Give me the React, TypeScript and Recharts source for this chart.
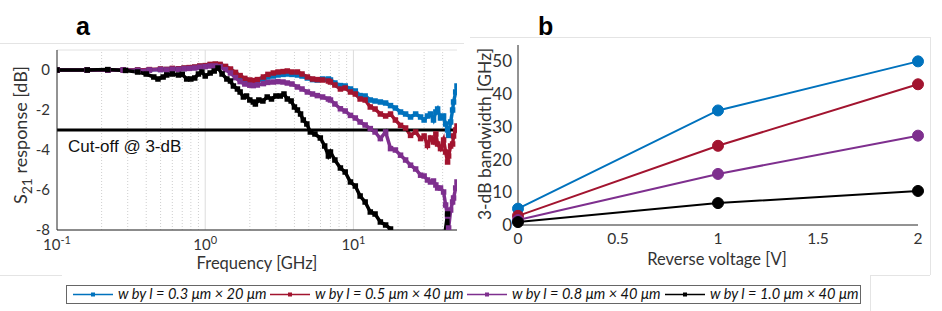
import React from 'react';
import { LineChart, Line, XAxis, YAxis, CartesianGrid, ReferenceLine } from 'recharts';

// ---------- Panel a: S21 response vs frequency ----------
const FREQ_GHZ = [
  0.1, 0.16, 0.22, 0.28, 0.35, 0.42, 0.5, 0.55, 0.6, 0.66,
  0.72, 0.78, 0.85, 0.92, 1.0, 1.08, 1.17, 1.26, 1.37, 1.48,
  1.6, 1.72, 1.85, 2.0, 2.11, 2.25, 2.47, 2.65, 2.88, 3.1,
  3.35, 3.58, 3.85, 4.19, 4.5, 4.89, 5.3, 5.71, 6.2, 6.78,
  7.0, 7.5, 8.17, 8.8, 9.55, 10.3, 11.1, 12.0, 13.0, 14.0,
  15.2, 16.5, 17.8, 19.2, 20.8, 22.5, 24.3, 26.3, 28.4, 30.0,
  31.6, 33.1, 34.7, 36.0, 37.0, 38.7, 40.6, 41.9, 43.2, 43.9,
  45.3, 46.7, 47.4, 49.0, 50,
];

const S21_W03 = [
  0, 0, 0, 0, 0, 0.01, 0.03, 0.02, 0.06, 0.05,
  0.08, 0.1, 0.13, 0.18, 0.2, 0.25, 0.27, 0.25, 0.15, 0.0,
  -0.18, -0.35, -0.48, -0.58, -0.6, -0.55, -0.45, -0.35, -0.3, -0.25,
  -0.22, -0.2, -0.22, -0.25, -0.3, -0.4, -0.48, -0.5, -0.45, -0.45,
  -0.5, -0.65, -0.78, -0.8, -0.95, -1.05, -1.28, -1.3, -1.5, -1.55,
  -1.6, -1.65, -1.78, -1.9, -2.1, -2.2, -2.35, -2.2, -2.35, -2.5,
  -2.3, -2.2, -2.5, -2.1, -1.95, -2.4, -2.3, -2.7, -3.0, -3.27,
  -2.6, -2.0, -1.6, -1.1, -0.8,
];

const S21_W05 = [
  0, 0, 0, 0, 0, 0.02, 0.05, 0.03, 0.08, 0.06,
  0.1, 0.12, 0.15, 0.2, 0.22, 0.28, 0.3, 0.28, 0.18, 0.05,
  -0.12, -0.28, -0.42, -0.5, -0.53, -0.48, -0.35, -0.22, -0.15, -0.1,
  -0.08, -0.05, -0.1, -0.1, -0.2, -0.35, -0.45, -0.48, -0.5, -0.55,
  -0.6, -0.75, -0.95, -0.9, -1.1, -1.2, -1.45, -1.5, -1.85, -1.95,
  -2.2, -2.3, -2.2, -2.5, -2.77, -2.9, -3.27, -3.1, -3.43, -3.3,
  -3.77, -3.4, -3.6, -3.2, -3.7, -3.93, -3.5, -4.1, -4.6, -4.3,
  -3.8, -3.7, -3.3, -3.0, -2.8,
];

const S21_W08 = [
  0, 0, 0, 0, -0.02, 0, 0.02, 0, 0.04, 0.03,
  0.06, 0.08, 0.1, 0.14, 0.17, 0.2, 0.2, 0.16, 0.02, -0.15,
  -0.38, -0.58, -0.7, -0.76, -0.78, -0.75, -0.68, -0.62, -0.6, -0.58,
  -0.6, -0.65, -0.7, -0.85, -0.95, -1.1, -1.2, -1.28, -1.35, -1.45,
  -1.5, -1.7, -1.94, -2.05, -2.27, -2.4, -2.6, -2.75, -2.93, -3.1,
  -3.43, -3.1, -3.93, -4.0, -4.26, -4.5, -4.76, -4.95, -5.26, -5.3,
  -5.5, -5.6, -5.55, -5.75, -5.9, -5.9, -6.1, -6.75, -7.3, -7.9,
  -7.0, -6.6, -6.4, -5.9, -5.6,
];

const FREQ_GHZ_W10 = [
  0.1, 0.16, 0.22, 0.29, 0.35, 0.4, 0.45, 0.48, 0.52, 0.55,
  0.6, 0.66, 0.7, 0.75, 0.8, 0.85, 0.9, 0.95, 1.0, 1.08,
  1.15, 1.22, 1.3, 1.4, 1.48, 1.55, 1.65, 1.72, 1.81, 1.9,
  2.0, 2.11, 2.18, 2.3, 2.45, 2.62, 2.8, 3.0, 3.21, 3.4,
  3.58, 3.8, 4.0, 4.19, 4.4, 4.59, 4.85, 5.12, 5.5, 5.98,
  6.4, 6.78, 7.0, 7.5, 8.17, 8.8, 9.55, 10.3, 11.1, 12.0,
  13.0, 14.0, 15.2, 16.5, 17.8, 19.0, 22.0, 30.0, 40.0, 43.2,
  44.0,
];

const S21_W10 = [
  0, 0, 0.02, -0.02, -0.1, -0.2, -0.35, -0.45, -0.35, -0.25,
  -0.2, -0.25, -0.22, -0.45, -0.45, -0.4, -0.2, -0.1, -0.3, -0.15,
  -0.05, 0.1, -0.2, -0.45, -0.55, -0.8, -0.95, -1.1, -1.35, -1.3,
  -1.5, -1.6, -1.7, -1.5, -1.55, -1.35, -1.45, -1.3, -1.3, -1.2,
  -1.45, -1.55, -1.85, -2.0, -2.2, -2.5, -2.7, -3.1, -3.2, -3.4,
  -3.8, -4.3, -4.1, -4.5, -4.9, -5.1, -5.6, -5.8, -6.3, -6.6,
  -7.1, -7.2, -7.6, -7.75, -7.95, -8.3, -9.0, -10.0, -9.0, -7.2,
  -9.0,
];

const FREQ_MAJOR_TICKS = [0.1, 1, 10];
const FREQ_MINOR_TICKS = [0.2, 0.3, 0.4, 0.5, 0.6, 0.7, 0.8, 0.9, 2, 3, 4, 5, 6, 7, 8, 9, 20, 30, 40];
const FREQ_DOMAIN = [0.1, 50];
const S21_TICKS = [-8, -6, -4, -2, 0];
const S21_DOMAIN = [-8, 1];
const CUTOFF_DB = -3;

// ---------- Panel b: 3-dB bandwidth vs reverse voltage ----------
const VOLTAGE = [0, 1, 2];
const BW_W03 = [5, 35, 50];
const BW_W05 = [2.8, 24.2, 43];
const BW_W08 = [1.5, 15.6, 27.3];
const BW_W10 = [0.9, 6.7, 10.4];
const VOLT_TICKS = [0, 0.5, 1, 1.5, 2];
const BW_TICKS = [0, 10, 20, 30, 40, 50];

// ---------- Series meta ----------
const SERIES_KEYS = ['w03', 'w05', 'w08', 'w10'];
const SERIES_LABELS = [
  'w by l = 0.3 \u03bcm \u00d7 20 \u03bcm',
  'w by l = 0.5 \u03bcm \u00d7 40 \u03bcm',
  'w by l = 0.8 \u03bcm \u00d7 40 \u03bcm',
  'w by l = 1.0 \u03bcm \u00d7 40 \u03bcm',
];
const COLORS = ['#0072BD', '#A2142F', '#7E2F8E', '#000000'];

const S21_SERIES = [
  { f: FREQ_GHZ, v: S21_W03 },
  { f: FREQ_GHZ, v: S21_W05 },
  { f: FREQ_GHZ, v: S21_W08 },
  { f: FREQ_GHZ_W10, v: S21_W10 },
];
const BW_SERIES = [BW_W03, BW_W05, BW_W08, BW_W10];

const toPoints = (xs: number[], ys: number[]) => xs.map((f, i) => ({ f, v: ys[i] }));
const bwData = VOLTAGE.map((v, i) => {
  const row: any = { v };
  SERIES_KEYS.forEach((k, s) => (row[k] = BW_SERIES[s][i]));
  return row;
});

const AXIS = '#262626';
const TICK_FONT = { fontFamily: 'Lato, sans-serif', fontSize: 15, fill: '#333' };

const squareDot = (color: string, size: number) => (props: any) => {
  const { cx, cy, index } = props;
  if (cx == null || cy == null || Number.isNaN(cx) || Number.isNaN(cy)) return <g key={`sq-${index}`} />;
  return <rect key={`sq-${index}`} x={cx - size / 2} y={cy - size / 2} width={size} height={size} fill={color} />;
};

const LogTick = (props: any) => {
  const { x, y, payload } = props;
  const exp = Math.round(Math.log10(payload.value));
  return (
    <text x={x} y={y} textAnchor="middle" fontFamily="Lato, sans-serif" fontSize={15} fill="#333">
      <tspan>10</tspan>
      <tspan dy={-6} fontSize={11}>{exp}</tspan>
    </text>
  );
};

const PanelA = () => (
  <LineChart width={470} height={300} margin={{ top: 50, right: 13, bottom: 40, left: 0 }}>
    <CartesianGrid vertical={false} stroke="#e2e2e2" />
    {FREQ_MINOR_TICKS.map((t) => (
      <ReferenceLine key={`mg-${t}`} xAxisId="x" yAxisId="y" x={t} stroke="#cfcfcf" strokeDasharray="1 2" />
    ))}
    {FREQ_MAJOR_TICKS.slice(1).map((t) => (
      <ReferenceLine key={`Mg-${t}`} xAxisId="x" yAxisId="y" x={t} stroke="#dcdcdc" />
    ))}
    <XAxis
      xAxisId="x"
      dataKey="f"
      type="number"
      scale="log"
      domain={FREQ_DOMAIN}
      allowDataOverflow
      ticks={FREQ_MAJOR_TICKS}
      tick={<LogTick />}
      tickLine={false}
      tickSize={0}
      tickMargin={20}
      height={30}
      axisLine={{ stroke: AXIS }}
    />
    <XAxis
      xAxisId="xb"
      type="number"
      scale="log"
      domain={FREQ_DOMAIN}
      allowDataOverflow
      ticks={[...FREQ_MAJOR_TICKS, ...FREQ_MINOR_TICKS]}
      orientation="bottom"
      mirror
      tick={false}
      tickSize={3}
      tickLine={{ stroke: AXIS }}
      axisLine={false}
      height={0}
    />
    <XAxis
      xAxisId="xt"
      type="number"
      scale="log"
      domain={FREQ_DOMAIN}
      allowDataOverflow
      ticks={[...FREQ_MAJOR_TICKS, ...FREQ_MINOR_TICKS]}
      orientation="top"
      mirror
      tick={false}
      tickSize={3}
      tickLine={{ stroke: AXIS }}
      axisLine={{ stroke: AXIS }}
      height={0}
    />
    <YAxis
      yAxisId="y"
      type="number"
      domain={S21_DOMAIN}
      allowDataOverflow
      ticks={S21_TICKS}
      width={57}
      tickLine={false}
      tickSize={0}
      tickMargin={7}
      tick={TICK_FONT}
      axisLine={{ stroke: AXIS }}
    />
    <YAxis
      yAxisId="yl"
      type="number"
      domain={S21_DOMAIN}
      allowDataOverflow
      ticks={S21_TICKS}
      orientation="left"
      mirror
      tick={false}
      tickSize={4}
      tickLine={{ stroke: AXIS }}
      axisLine={false}
      width={0}
    />
    <YAxis
      yAxisId="yr"
      type="number"
      domain={S21_DOMAIN}
      allowDataOverflow
      ticks={S21_TICKS}
      orientation="right"
      mirror
      tick={false}
      tickSize={4}
      tickLine={{ stroke: AXIS }}
      axisLine={{ stroke: AXIS }}
      width={0}
    />
    {S21_SERIES.map((s, i) => (
      <Line
        key={SERIES_KEYS[i]}
        xAxisId="x"
        yAxisId="y"
        data={toPoints(s.f, s.v)}
        dataKey="v"
        type="linear"
        stroke={COLORS[i]}
        strokeWidth={3.5}
        dot={squareDot(COLORS[i], 5.5)}
        isAnimationActive={false}
      />
    ))}
    <ReferenceLine xAxisId="x" yAxisId="y" y={CUTOFF_DB} stroke="#000" strokeWidth={3} />
  </LineChart>
);

const PanelB = () => (
  <LineChart width={460} height={300} data={bwData} margin={{ top: 45, right: 12, bottom: 45, left: 0 }}>
    <XAxis
      xAxisId="x"
      dataKey="v"
      type="number"
      domain={[0, 2]}
      ticks={VOLT_TICKS}
      tickLine={false}
      tickSize={0}
      tickMargin={8}
      height={30}
      tick={{ ...TICK_FONT, fontSize: 15.5 }}
      axisLine={{ stroke: AXIS }}
    />
    <XAxis
      xAxisId="xb"
      type="number"
      domain={[0, 2]}
      ticks={VOLT_TICKS}
      orientation="bottom"
      mirror
      tick={false}
      tickSize={4}
      tickLine={{ stroke: AXIS }}
      axisLine={false}
      height={0}
    />
    <XAxis
      xAxisId="xt"
      type="number"
      domain={[0, 2]}
      ticks={VOLT_TICKS}
      orientation="top"
      mirror
      tick={false}
      tickSize={4}
      tickLine={{ stroke: AXIS }}
      axisLine={{ stroke: AXIS }}
      height={0}
    />
    <YAxis
      yAxisId="y"
      type="number"
      domain={[0, 55]}
      ticks={BW_TICKS}
      width={48}
      tickLine={false}
      tickSize={0}
      tickMargin={6}
      tick={{ ...TICK_FONT, fontSize: 17 }}
      axisLine={{ stroke: AXIS }}
    />
    <YAxis
      yAxisId="yl"
      type="number"
      domain={[0, 55]}
      ticks={BW_TICKS}
      orientation="left"
      mirror
      tick={false}
      tickSize={4}
      tickLine={{ stroke: AXIS }}
      axisLine={false}
      width={0}
    />
    <YAxis
      yAxisId="yr"
      type="number"
      domain={[0, 55]}
      ticks={BW_TICKS}
      orientation="right"
      mirror
      tick={false}
      tickSize={4}
      tickLine={{ stroke: AXIS }}
      axisLine={{ stroke: AXIS }}
      width={0}
    />
    {SERIES_KEYS.map((k, i) => (
      <Line
        key={k}
        xAxisId="x"
        yAxisId="y"
        dataKey={k}
        type="linear"
        stroke={COLORS[i]}
        strokeWidth={2}
        dot={{ r: 5.5, fill: COLORS[i], stroke: COLORS[i], strokeWidth: 1 }}
        isAnimationActive={false}
      />
    ))}
  </LineChart>
);

const LEGEND_X = [73, 270, 467, 665];

const Overlay = () => (
  <svg width={942} height={311} style={{ position: 'absolute', left: 0, top: 0, pointerEvents: 'none' }}>
    {/* faint sub-figure frames */}
    <g stroke="#e4e4e4" strokeWidth={1}>
      <line x1={0} y1={43.5} x2={464} y2={43.5} />
      <line x1={0} y1={275.5} x2={62} y2={275.5} />
      <line x1={470} y1={37.5} x2={930} y2={37.5} />
      <line x1={930.5} y1={37} x2={930.5} y2={275} />
      <line x1={870} y1={275.5} x2={930} y2={275.5} />
      <line x1={870.5} y1={275} x2={870.5} y2={311} />
    </g>
    {/* panel titles */}
    <text x={76} y={35} fontFamily="'Liberation Sans', Arial, sans-serif" fontWeight="bold" fontSize={25} fill="#000">a</text>
    <text x={538} y={35} fontFamily="'Liberation Sans', Arial, sans-serif" fontWeight="bold" fontSize={25} fill="#000">b</text>
    {/* panel a labels */}
    <text x={68} y={152} fontFamily="'Liberation Sans', Arial, sans-serif" fontSize={17} fill="#111">Cut-off @ 3-dB</text>
    <text x={257} y={269} textAnchor="middle" fontFamily="Lato, sans-serif" fontSize={16.5} fill="#333">Frequency [GHz]</text>
    <text transform="translate(27,135) rotate(-90)" textAnchor="middle" fontFamily="Lato, sans-serif" fontSize={18} fill="#333">
      <tspan>S</tspan>
      <tspan dy={5} fontSize={14}>21</tspan>
      <tspan dy={-5}> response [dB]</tspan>
    </text>
    {/* panel b labels */}
    <text x={717} y={265} textAnchor="middle" fontFamily="Lato, sans-serif" fontSize={16.5} fill="#333">Reverse voltage [V]</text>
    <text transform="translate(491,134) rotate(-90)" textAnchor="middle" fontFamily="Lato, sans-serif" fontSize={17.5} fill="#333">3-dB bandwidth [GHz]</text>
    {/* legend */}
    <rect x={66.5} y={285.5} width={794} height={18} fill="#fff" stroke="#666" strokeWidth={1} />
    {SERIES_LABELS.map((lab, i) => (
      <g key={lab}>
        <line x1={LEGEND_X[i]} y1={294.5} x2={LEGEND_X[i] + 40} y2={294.5} stroke={COLORS[i]} strokeWidth={1.5} />
        <rect x={LEGEND_X[i] + 18} y={292.5} width={4} height={4} fill={COLORS[i]} />
        <text x={LEGEND_X[i] + 45} y={299} fontFamily="Lato, sans-serif" fontStyle="italic" fontSize={14.6} fill="#111">{lab}</text>
      </g>
    ))}
  </svg>
);

export default function App() {
  return (
    <div style={{ position: 'absolute', left: 0, top: 0, width: 942, height: 311, background: '#fff', overflow: 'hidden' }}>
      <div style={{ position: 'absolute', left: 0, top: 0 }}>
        <PanelA />
      </div>
      <div style={{ position: 'absolute', left: 470, top: 0 }}>
        <PanelB />
      </div>
      <Overlay />
    </div>
  );
}
